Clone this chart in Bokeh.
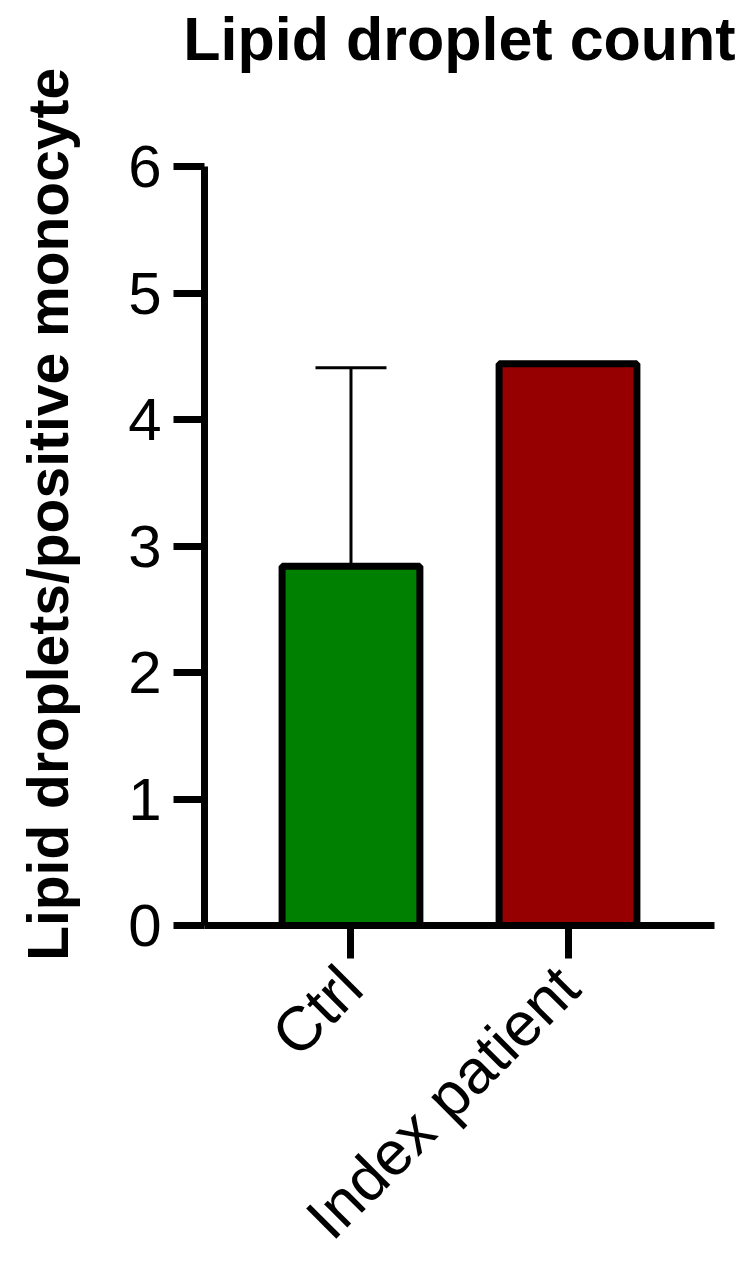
import math
from bokeh.plotting import figure
from bokeh.models import ColumnDataSource, FactorRange, Range1d, Whisker, TeeHead, FixedTicker, Title
from bokeh.embed import file_html
from bokeh.resources import INLINE

# ---- data ----
categories = ["Ctrl", "Index patient"]
means = [2.84, 4.44]
errors_upper = [1.57, 0.0]
bar_colors = ["#008000", "#960000"]
y_ticks = [0, 1, 2, 3, 4, 5, 6]
title_text = "Lipid droplet count"
y_label = "Lipid droplets/positive monocyte"

upper = [m + e for m, e in zip(means, errors_upper)]
src = ColumnDataSource(data=dict(cat=categories, mean=means, color=bar_colors, upper=upper))
err_src = ColumnDataSource(data=dict(cat=categories[:1], mean=means[:1], upper=upper[:1]))

FONT = "Liberation Sans"

p = figure(
    width=751, height=1279,
    x_range=FactorRange(factors=categories, range_padding=0.175),
    y_range=Range1d(0, 6),
    output_backend="svg", toolbar_location=None,
    min_border_left=204, min_border_right=37, min_border_top=166, min_border_bottom=352,
)
p.title = None
# blank spacer panel next to the frame, then the real title further out
p.add_layout(Title(text="\u00a0", text_font=FONT, text_font_size="61px",
                   standoff=22), "above")
p.add_layout(Title(text=title_text, text_font=FONT, text_font_size="61px",
                   text_font_style="bold", align="center", text_color="black",
                   vertical_align="top", standoff=0), "above")

p.vbar(x="cat", top="mean", bottom=0, width=0.635, source=src,
       fill_color="color", line_color="black", line_width=7)

w = Whisker(base="cat", lower="mean", upper="upper", source=err_src,
            line_color="black", line_width=3,
            upper_head=TeeHead(size=71, line_width=3, line_color="black"),
            lower_head=None)
p.add_layout(w)

p.outline_line_color = None
p.xgrid.grid_line_color = None
p.ygrid.grid_line_color = None
p.background_fill_color = "white"
p.border_fill_color = "white"

for ax in (p.xaxis[0], p.yaxis[0]):
    ax.axis_line_width = 7
    ax.axis_line_color = "black"
    ax.major_tick_line_width = 7
    ax.major_tick_line_color = "black"
    ax.major_tick_in = 0
    ax.minor_tick_line_color = None
    ax.major_label_text_font = FONT
    ax.major_label_text_color = "black"

p.yaxis.ticker = FixedTicker(ticks=y_ticks)
p.yaxis.major_label_text_font_size = "60px"
p.yaxis.major_tick_out = 31
p.yaxis.major_label_standoff = 12
p.yaxis.axis_label = "\u00a0" * 4 + y_label
p.yaxis.axis_label_text_font = FONT
p.yaxis.axis_label_text_font_size = "57px"
p.yaxis.axis_label_text_font_style = "bold"
p.yaxis.axis_label_text_color = "black"
p.yaxis.axis_label_standoff = 45

p.xaxis.major_label_text_font_size = "62px"
p.xaxis.major_tick_out = 33
p.xaxis.major_label_orientation = math.pi / 4
p.xaxis.major_label_standoff = 18

open("out.html", "w").write(file_html(p, INLINE))
